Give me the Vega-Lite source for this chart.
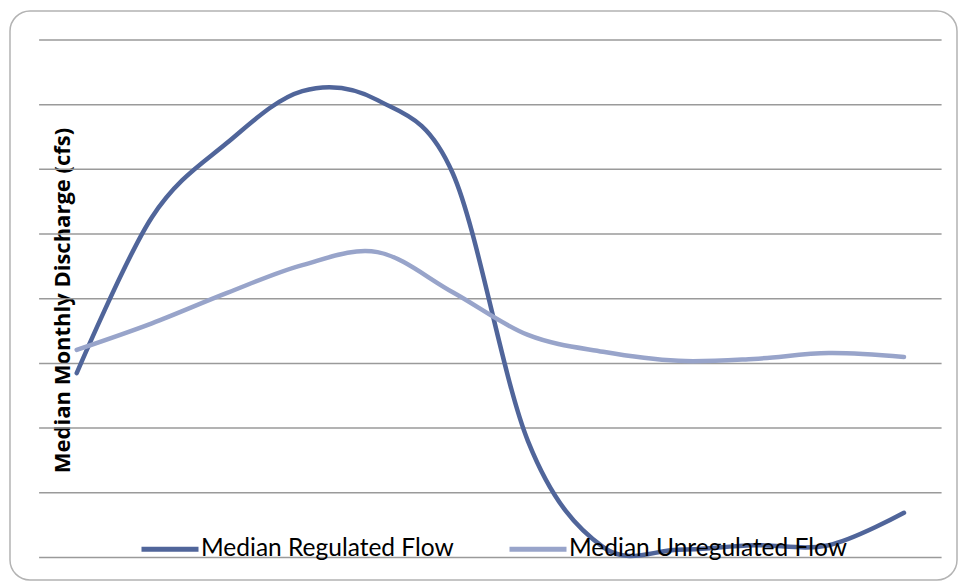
{
  "$schema": "https://vega.github.io/schema/vega-lite/v6.json",
  "width": 947,
  "height": 569,
  "autosize": {"type": "none"},
  "padding": {"left": 10, "top": 11, "right": 2, "bottom": 2},
  "background": "white",
  "config": {
    "view": {"stroke": "#b3b3b3", "strokeWidth": 1.5, "cornerRadius": 20},
    "font": "Lato"
  },
  "datasets": {
    "grid": [
      {"cfs": 0}, {"cfs": 1000}, {"cfs": 2000}, {"cfs": 3000}, {"cfs": 4000},
      {"cfs": 5000}, {"cfs": 6000}, {"cfs": 7000}, {"cfs": 8000}
    ],
    "flow": [
      {"month": 1, "series": "Median Regulated Flow", "cfs": 2850},
      {"month": 2, "series": "Median Regulated Flow", "cfs": 5260},
      {"month": 3, "series": "Median Regulated Flow", "cfs": 6410},
      {"month": 4, "series": "Median Regulated Flow", "cfs": 7210},
      {"month": 5, "series": "Median Regulated Flow", "cfs": 7070},
      {"month": 6, "series": "Median Regulated Flow", "cfs": 5940},
      {"month": 7, "series": "Median Regulated Flow", "cfs": 1800},
      {"month": 8, "series": "Median Regulated Flow", "cfs": 160},
      {"month": 9, "series": "Median Regulated Flow", "cfs": 120},
      {"month": 10, "series": "Median Regulated Flow", "cfs": 190},
      {"month": 11, "series": "Median Regulated Flow", "cfs": 190},
      {"month": 12, "series": "Median Regulated Flow", "cfs": 690},
      {"month": 1, "series": "Median Unregulated Flow", "cfs": 3210},
      {"month": 2, "series": "Median Unregulated Flow", "cfs": 3620},
      {"month": 3, "series": "Median Unregulated Flow", "cfs": 4090},
      {"month": 4, "series": "Median Unregulated Flow", "cfs": 4520},
      {"month": 5, "series": "Median Unregulated Flow", "cfs": 4720},
      {"month": 6, "series": "Median Unregulated Flow", "cfs": 4100},
      {"month": 7, "series": "Median Unregulated Flow", "cfs": 3440},
      {"month": 8, "series": "Median Unregulated Flow", "cfs": 3180},
      {"month": 9, "series": "Median Unregulated Flow", "cfs": 3040},
      {"month": 10, "series": "Median Unregulated Flow", "cfs": 3070},
      {"month": 11, "series": "Median Unregulated Flow", "cfs": 3160},
      {"month": 12, "series": "Median Unregulated Flow", "cfs": 3100}
    ]
  },
  "layer": [
    {
      "data": {"name": "grid"},
      "mark": {"type": "rule", "color": "#9a9a9a", "strokeWidth": 1.5},
      "encoding": {
        "x": {"datum": 0.5, "type": "quantitative", "scale": {"domain": [0.113, 12.705], "nice": false, "zero": false}, "axis": null},
        "x2": {"datum": 12.5},
        "y": {
          "field": "cfs", "type": "quantitative",
          "scale": {"domain": [-348, 8448], "nice": false, "zero": false},
          "axis": {"title": "Median Monthly Discharge (cfs)", "labels": false, "ticks": false, "domain": false, "grid": false,
                   "titleFont": "Open Sans", "titleFontWeight": "bold", "titleFontSize": 22, "titleColor": "black",
                   "titleAngle": -90, "titleX": 59, "titleY": 289, "titleAlign": "center", "titleBaseline": "alphabetic"}
        }
      }
    },
    {
      "data": {"name": "flow"},
      "mark": {"type": "line", "interpolate": "cardinal", "strokeWidth": 4.5, "strokeCap": "round"},
      "encoding": {
        "x": {"field": "month", "type": "quantitative"},
        "y": {"field": "cfs", "type": "quantitative"},
        "color": {
          "field": "series", "type": "nominal",
          "scale": {"domain": ["Median Regulated Flow", "Median Unregulated Flow"], "range": ["#50659a", "#98a4ca"]},
          "legend": {
            "title": null, "orient": "none", "direction": "horizontal",
            "legendX": 129, "legendY": 507, "padding": 0,
            "symbolType": "stroke", "symbolSize": 3249, "symbolStrokeWidth": 5,
            "labelFont": "Lato", "labelFontSize": 24.5, "labelColor": "black", "labelOffset": 0,
            "columnPadding": 45, "labelLimit": 400
          }
        }
      }
    }
  ]
}
